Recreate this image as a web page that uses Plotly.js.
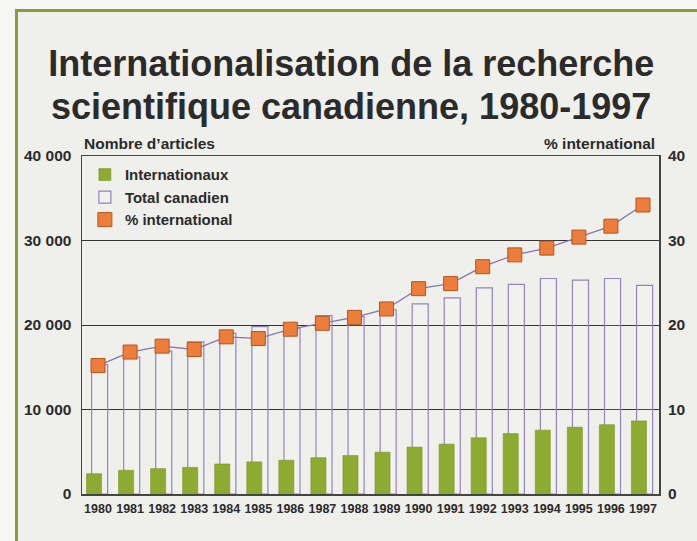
<!DOCTYPE html>
<html>
<head>
<meta charset="utf-8">
<script src="https://cdn.plot.ly/plotly-3.0.1.min.js"></script>
<style>
  html, body { margin: 0; padding: 0; background: #f6f6f3; }
  #frame { position: absolute; left: 15px; top: 9px; width: 700px; height: 560px; border-left: 3px solid #8c9a3c; border-top: 3px solid #8c9a3c; background: #efefeb; }
  #chart { position: absolute; left: 0; top: 0; width: 697px; height: 541px; }
</style>
</head>
<body>
<div id="frame"></div>
<div id="chart"></div>
<script>
const years = ['1980','1981','1982','1983','1984','1985','1986','1987','1988','1989','1990','1991','1992','1993','1994','1995','1996','1997'];
const internationaux = [2400, 2800, 3000, 3150, 3550, 3800, 4000, 4300, 4550, 4950, 5550, 5900, 6650, 7150, 7550, 7900, 8200, 8650];
const totalCanadien = [15300, 16200, 16900, 18000, 19000, 19800, 19600, 21100, 21000, 21800, 22500, 23200, 24400, 24800, 25500, 25300, 25500, 24700];
const pctInternational = [15.2, 16.8, 17.5, 17.1, 18.6, 18.4, 19.5, 20.2, 20.9, 21.9, 24.3, 24.9, 26.9, 28.3, 29.1, 30.4, 31.7, 34.2];
const yTickVals = [0, 10000, 20000, 30000, 40000];
const yTickText = ['0', '10 000', '20 000', '30 000', '40 000'];
const y2TickVals = [0, 10, 20, 30, 40];
const titleLine1 = 'Internationalisation de la recherche';
const titleLine2 = 'scientifique canadienne, 1980-1997';

const txt = '#2b2b2b';
const boldFont = 'Liberation Sans, Arial, sans-serif';

const traces = [
  {
    type: 'bar', name: 'Total canadien', x: years, y: totalCanadien,
    width: 0.5, offset: -0.2, legendrank: 2,
    marker: { color: 'rgba(255,255,255,0.12)', line: { color: '#9484bf', width: 1.2 } }
  },
  {
    type: 'bar', name: 'Internationaux', x: years, y: internationaux,
    width: 0.47, offset: -0.36, legendrank: 1,
    marker: { color: '#8dab30', line: { color: '#7a9528', width: 0.6 } }
  },
  {
    type: 'scatter', mode: 'lines', x: years, y: pctInternational, yaxis: 'y2',
    showlegend: false, line: { color: '#8576ab', width: 1.3 }
  },
  {
    type: 'scatter', mode: 'markers', name: '% international', x: years, y: pctInternational, yaxis: 'y2',
    legendrank: 3,
    marker: { symbol: 'square', size: 14, color: '#ec7d3a', line: { color: '#b8561c', width: 1 } }
  }
];

const layout = {
  width: 697, height: 541,
  paper_bgcolor: 'rgba(0,0,0,0)', plot_bgcolor: 'rgba(0,0,0,0)',
  margin: { l: 82, r: 38, t: 156, b: 47 },
  barmode: 'overlay',
  showlegend: true,
  title: {
    text: titleLine1,
    x: 0.504, xanchor: 'center', y: 0.882, yanchor: 'middle',
    font: { family: boldFont, size: 36, color: txt, weight: 'bold' }
  },
  legend: {
    x: 0.005, xanchor: 'left', y: 0.993, yanchor: 'top',
    bgcolor: 'rgba(0,0,0,0)', borderwidth: 0,
    font: { family: boldFont, size: 15, color: txt, weight: 'bold' },
    tracegroupgap: 0, itemclick: false
  },
  xaxis: {
    type: 'category', range: [-0.5, 17.5],
    showline: true, linecolor: '#444', linewidth: 1.5, mirror: true,
    showgrid: false, ticks: '', ticklabelstandoff: 2, tickangle: 0,
    tickfont: { family: boldFont, size: 12.5, color: txt, weight: 'bold' }
  },
  yaxis: {
    range: [0, 40000], tickvals: yTickVals, ticktext: yTickText,
    showline: true, linecolor: '#444', linewidth: 1.5, mirror: true,
    showgrid: true, gridcolor: '#333', gridwidth: 1,
    zeroline: false, ticks: '', ticklabelstandoff: 6,
    tickfont: { family: boldFont, size: 15.5, color: txt, weight: 'bold' }
  },
  yaxis2: {
    range: [0, 40], overlaying: 'y', side: 'right', tickvals: y2TickVals,
    showgrid: false, zeroline: false, showline: false, ticks: '', ticklabelstandoff: 8,
    tickfont: { family: boldFont, size: 15.5, color: txt, weight: 'bold' }
  },
  annotations: [
    { text: titleLine2, xref: 'paper', yref: 'paper', x: 0.466, y: 1.145, xanchor: 'center', yanchor: 'middle', showarrow: false,
      font: { family: boldFont, size: 36, color: txt, weight: 'bold' } },
    { text: 'Nombre d’articles', xref: 'paper', yref: 'paper', x: 0.0, y: 1.038, xanchor: 'left', yanchor: 'middle', showarrow: false,
      font: { family: boldFont, size: 15.5, color: txt, weight: 'bold' } },
    { text: '% international', xref: 'paper', yref: 'paper', x: 0.997, y: 1.038, xanchor: 'right', yanchor: 'middle', showarrow: false,
      font: { family: boldFont, size: 15.5, color: txt, weight: 'bold' } }
  ]
};

Plotly.newPlot('chart', traces, layout, { displayModeBar: false, staticPlot: true });
</script>
</body>
</html>
